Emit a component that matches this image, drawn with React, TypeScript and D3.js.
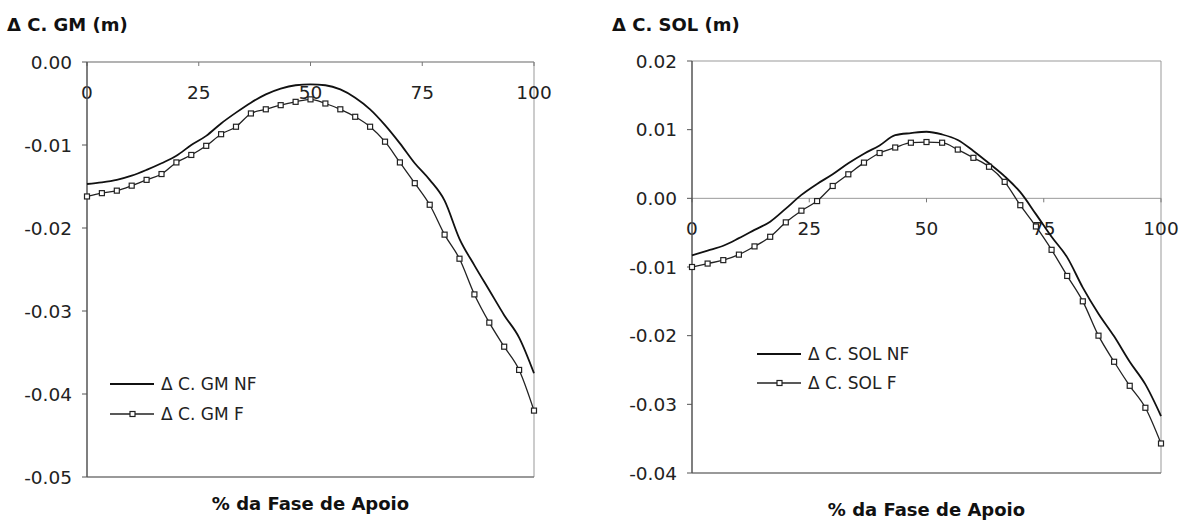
import React from 'react';
import * as d3 from 'd3';

// % da fase de apoio (31 amostras)
const fase = [0, 3.33, 6.67, 10, 13.33, 16.67, 20, 23.33, 26.67, 30, 33.33, 36.67, 40, 43.33, 46.67, 50,
  53.33, 56.67, 60, 63.33, 66.67, 70, 73.33, 76.67, 80, 83.33, 86.67, 90, 93.33, 96.67, 100];

const gmNF = [-0.0147, -0.0145, -0.0142, -0.0137, -0.0130, -0.0122, -0.0113, -0.0100, -0.0089, -0.0074,
  -0.0061, -0.0049, -0.0039, -0.0032, -0.0028, -0.0027, -0.0028, -0.0033, -0.0043, -0.0057, -0.0076,
  -0.0098, -0.0122, -0.0142, -0.0167, -0.0213, -0.0245, -0.0275, -0.0305, -0.0332, -0.0375];
const gmF = [-0.0162, -0.0158, -0.0155, -0.0149, -0.0142, -0.0135, -0.0121, -0.0112, -0.0101, -0.0087,
  -0.0078, -0.0062, -0.0057, -0.0052, -0.0048, -0.0045, -0.0050, -0.0057, -0.0066, -0.0078, -0.0096,
  -0.0121, -0.0146, -0.0172, -0.0208, -0.0237, -0.0280, -0.0314, -0.0343, -0.0371, -0.0420];

const solNF = [-0.0083, -0.0076, -0.0069, -0.0058, -0.0046, -0.0034, -0.0015, 0.0005, 0.0021, 0.0035,
  0.0051, 0.0065, 0.0077, 0.0092, 0.0095, 0.0097, 0.0093, 0.0085, 0.0069, 0.0051, 0.0032, 0.0009,
  -0.0023, -0.0056, -0.0086, -0.0130, -0.0168, -0.0201, -0.0238, -0.0271, -0.0317];
const solF = [-0.0100, -0.0095, -0.0090, -0.0082, -0.0070, -0.0056, -0.0035, -0.0018, -0.0004, 0.0018,
  0.0035, 0.0052, 0.0066, 0.0074, 0.0081, 0.0082, 0.0081, 0.0071, 0.0059, 0.0046, 0.0024, -0.0010,
  -0.0041, -0.0075, -0.0113, -0.0150, -0.0200, -0.0238, -0.0273, -0.0305, -0.0357];

const xTicks = [0, 25, 50, 75, 100];
const gmTicks = [0, -0.01, -0.02, -0.03, -0.04, -0.05];
const solTicks = [0.02, 0.01, 0, -0.01, -0.02, -0.03, -0.04];

const FONT = '"DejaVu Sans", Verdana, sans-serif';

type PanelProps = {
  left: number; right: number; top: number; bottom: number;
  yDomain: [number, number]; yTicks: number[];
  nf: number[]; f: number[];
  title: string; titleX: number; titleY: number;
  xLabelY: number; xTickY: number;
  legend: string[]; legX: number; legY: number[];
};

const Panel = (p: PanelProps) => {
  const x = d3.scaleLinear().domain([0, 100]).range([p.left, p.right]);
  const y = d3.scaleLinear().domain(p.yDomain).range([p.bottom, p.top]);
  const line = d3.line<number>()
    .x((_, i) => x(fase[i]))
    .y(d => y(d))
    .curve(d3.curveMonotoneX);
  const y0 = y(0);
  return (
    <g fontFamily={FONT}>
      {/* plot border */}
      <line x1={p.left} x2={p.right} y1={p.top} y2={p.top} stroke="#999" strokeWidth={1} />
      <line x1={p.right} x2={p.right} y1={p.top} y2={p.bottom} stroke="#999" strokeWidth={1} />
      <line x1={p.left} x2={p.right} y1={p.bottom} y2={p.bottom} stroke="#777" strokeWidth={1.5} />
      {/* x axis at zero */}
      <line x1={p.left} x2={p.right} y1={y0} y2={y0} stroke="#999" strokeWidth={1} />
      {xTicks.map(t => (
        <g key={t}>
          <line x1={x(t)} x2={x(t)} y1={y0} y2={y0 + 4} stroke="#777" />
          <text x={x(t)} y={p.xTickY} textAnchor="middle" fontSize={18.5} fill="#222">{t}</text>
        </g>
      ))}
      {/* y axis */}
      <line x1={p.left} x2={p.left} y1={p.top} y2={p.bottom} stroke="#555" strokeWidth={1.5} />
      {p.yTicks.map(t => (
        <g key={t}>
          <line x1={p.left - 5} x2={p.left} y1={y(t)} y2={y(t)} stroke="#555" />
          <text x={p.left - 15} y={y(t) + 6.5} textAnchor="end" fontSize={18.5} fill="#222">{t.toFixed(2)}</text>
        </g>
      ))}
      {/* series */}
      <path d={line(p.nf) || ''} fill="none" stroke="#111" strokeWidth={1.8} />
      <path d={line(p.f) || ''} fill="none" stroke="#222" strokeWidth={1.3} />
      {p.f.map((v, i) => (
        <rect key={i} x={x(fase[i]) - 2.5} y={y(v) - 2.5} width={5} height={5}
          fill="#fff" stroke="#222" strokeWidth={1.2} />
      ))}
      {/* legend */}
      <line x1={p.legX} x2={p.legX + 44} y1={p.legY[0]} y2={p.legY[0]} stroke="#111" strokeWidth={1.8} />
      <text x={p.legX + 51} y={p.legY[0] + 6} fontSize={17} fill="#222">{p.legend[0]}</text>
      <line x1={p.legX} x2={p.legX + 44} y1={p.legY[1]} y2={p.legY[1]} stroke="#222" strokeWidth={1.3} />
      <rect x={p.legX + 20} y={p.legY[1] - 2.5} width={5} height={5} fill="#fff" stroke="#222" strokeWidth={1.2} />
      <text x={p.legX + 51} y={p.legY[1] + 6} fontSize={17} fill="#222">{p.legend[1]}</text>
      {/* titles */}
      <text x={p.titleX} y={p.titleY} fontSize={18} fontWeight="bold" fill="#111">{p.title}</text>
      <text x={(p.left + p.right) / 2} y={p.xLabelY} textAnchor="middle" fontSize={18} fontWeight="bold" fill="#111">
        % da Fase de Apoio
      </text>
    </g>
  );
};

export default function App() {
  return (
    <div style={{ position: 'fixed', left: 0, top: 0 }}>
      <svg width={1192} height={523} style={{ display: 'block', background: '#fff' }}>
        <Panel left={87} right={534} top={62} bottom={477} yDomain={[-0.05, 0]} yTicks={gmTicks}
          nf={gmNF} f={gmF} title="Δ C. GM (m)" titleX={7} titleY={31}
          xLabelY={510} xTickY={99} legend={['Δ C.  GM NF', 'Δ C.  GM F']} legX={110} legY={[384, 414]} />
        <Panel left={692} right={1161} top={61} bottom={473} yDomain={[-0.04, 0.02]} yTicks={solTicks}
          nf={solNF} f={solF} title="Δ C. SOL (m)" titleX={612} titleY={31}
          xLabelY={516} xTickY={235} legend={['Δ C.  SOL NF', 'Δ C.  SOL F']} legX={757} legY={[354, 383]} />
      </svg>
    </div>
  );
}
